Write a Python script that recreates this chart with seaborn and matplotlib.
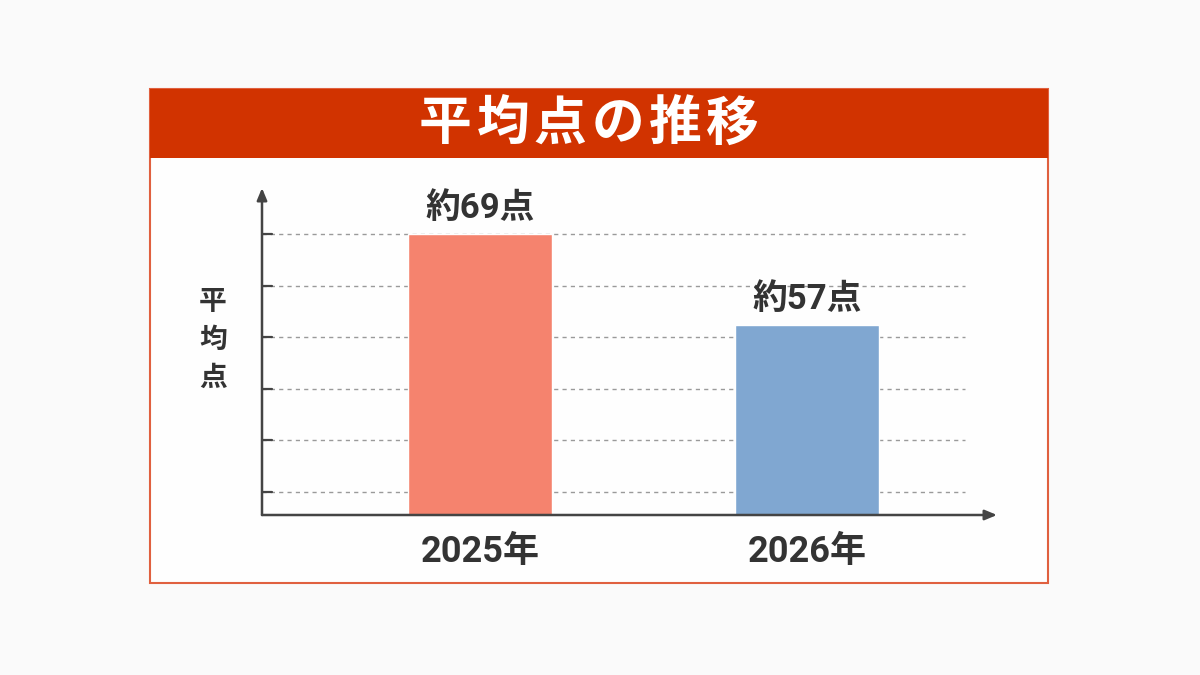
import numpy as np
import pandas as pd
import seaborn as sns
import matplotlib.pyplot as plt
from matplotlib.patches import Rectangle

#---------------------------------data
years = ["2025年", "2026年"]
scores = [69, 57]
labels = ["約69点", "約57点"]
bar_colors = ["#F5836E", "#80A7D1"]
grid_vals = np.linspace(35, 69, 6)
title = "平均点の推移"
ylabel = "平均点"

df = pd.DataFrame({"year": years, "score": scores})

sns.set_theme(style="white")
plt.rcParams["font.family"] = ["Noto Sans CJK JP", "DejaVu Sans"]
num_font = ["Roboto", "Noto Sans CJK JP"]

W, H = 1200, 675
fig = plt.figure(figsize=(12, 6.75), dpi=100)
fig.patch.set_facecolor("#FAFAFA")

# panel + header (behind the axes)
fig.patches.append(Rectangle((150 / W, 1 - 583 / H), 898 / W, 494 / H, transform=fig.transFigure,
                             facecolor="#FEFEFE", edgecolor="#E0603F", linewidth=1.5, zorder=-3))
fig.patches.append(Rectangle((150 / W, 1 - 158 / H), 898 / W, 69 / H, transform=fig.transFigure,
                             facecolor="#D13300", edgecolor="none", zorder=-2))
# title drawn char by char for the wide letter spacing
step = 57.5
x0 = 589 - step * (len(title) - 1) / 2
for k, ch in enumerate(title):
    fig.text((x0 + k * step) / W, 1 - 124 / H, ch, color="white", fontsize=38, fontweight="bold",
             ha="center", va="center")

# axes placed by pixel box
ax = fig.add_axes([262 / W, 1 - 515 / H, (997 - 262) / W, (515 - 188) / H])
ax.patch.set_alpha(0)
sns.barplot(data=df, x="year", y="score", hue="year", palette=bar_colors,
            width=0.44, saturation=1, legend=False, ax=ax, zorder=3)
ax.set_xlim(-0.667, 1.58)
ax.set_ylim(31.9, 75.1)

for v in grid_vals:
    ax.plot([-0.667, 1.483], [v, v], ls=(0, (3, 3)), color="#9A9A9A", lw=1, zorder=1)
    ax.plot([-0.667, -0.636], [v, v], color="#444444", lw=1.6, zorder=4)

for s in ax.spines.values():
    s.set_visible(False)
for tip in [(0, 1), (1, 0)]:
    ax.annotate("", xy=tip, xytext=(0, 0), xycoords="axes fraction",
                arrowprops=dict(arrowstyle="-|>,head_length=0.6,head_width=0.25", color="#444444",
                                lw=1.8, shrinkA=0, shrinkB=0))

for i, (v, t) in enumerate(zip(scores, labels)):
    ax.text(i, v + 1.2, t, ha="center", va="bottom", fontsize=25, fontweight="bold",
            color="#333333", family=num_font)

ax.set_yticks([])
ax.set_xticks([0, 1])
ax.set_xticklabels(years, fontsize=26, fontweight="bold", color="#333333", family=num_font)
ax.tick_params(axis="x", length=0, pad=14)
ax.set_xlabel("")
ax.set_ylabel("")

fig.text(213 / W, 1 - 340 / H, "\n".join(ylabel), fontsize=20, fontweight="bold", color="#333333",
         ha="center", va="center", linespacing=1.45)

fig.savefig("out.png", dpi=100, facecolor=fig.get_facecolor())
